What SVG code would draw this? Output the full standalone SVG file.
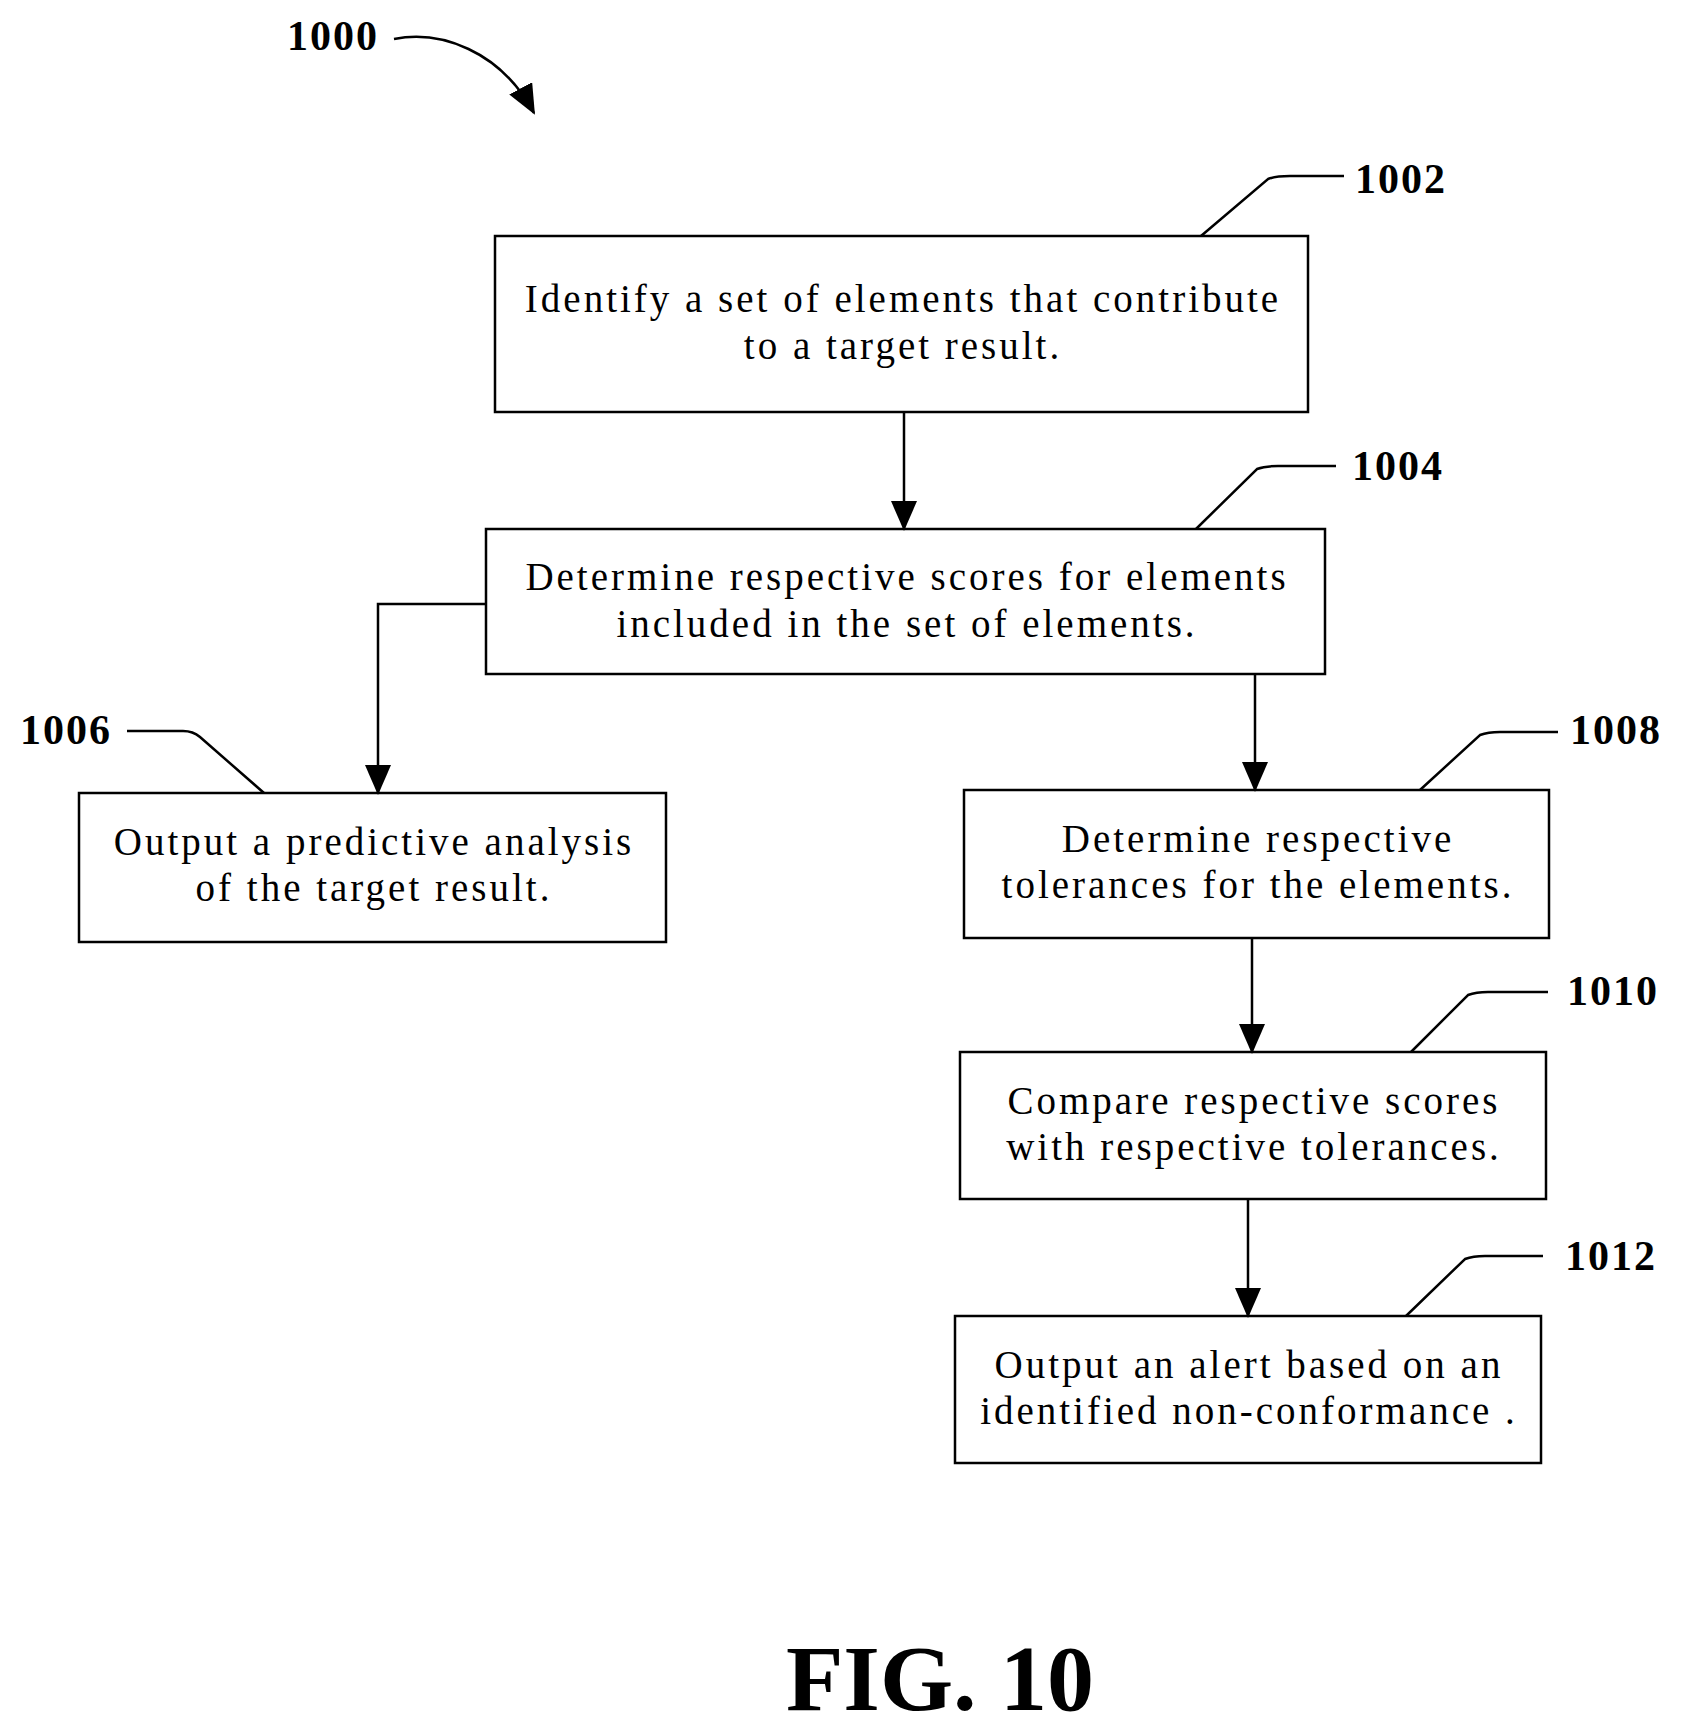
<svg xmlns="http://www.w3.org/2000/svg" width="1686" height="1733" viewBox="0 0 1686 1733">
<style>
.box{fill:#fff;stroke:#000;stroke-width:2.5}
.t{font-family:"Liberation Serif",serif;font-size:39px;letter-spacing:3px;text-anchor:middle;fill:#000}
.lb{font-family:"Liberation Serif",serif;font-size:42px;letter-spacing:2px;font-weight:bold;fill:#000}
.ln{fill:none;stroke:#000;stroke-width:2.5}
</style>
<defs>
<marker id="ah2" markerWidth="30" markerHeight="26" refX="28" refY="13" orient="auto" markerUnits="userSpaceOnUse" viewBox="0 0 30 26">
<path d="M0,0 L30,13 L0,26 Z" fill="#000"/>
</marker>
</defs>
<rect width="1686" height="1733" fill="#fff"/>
<g id="n1000"><text class="lb" x="287" y="50">1000</text></g>
<g id="n1002"><rect class="box" x="495" y="236" width="813" height="176"/>
<text class="t" x="903" y="312">Identify a set of elements that contribute</text>
<text class="t" x="903" y="359">to a target result.</text>
<text class="lb" x="1355" y="193">1002</text></g>
<g id="n1004"><rect class="box" x="486" y="529" width="839" height="145"/>
<text class="t" x="907" y="590">Determine respective scores for elements</text>
<text class="t" x="907" y="637">included in the set of elements.</text>
<text class="lb" x="1352" y="480">1004</text></g>
<g id="n1006"><rect class="box" x="79" y="793" width="587" height="149"/>
<text class="t" x="374" y="855">Output a predictive analysis</text>
<text class="t" x="374" y="901">of the target result.</text>
<text class="lb" x="20" y="744">1006</text></g>
<g id="n1008"><rect class="box" x="964" y="790" width="585" height="148"/>
<text class="t" x="1258" y="852">Determine respective</text>
<text class="t" x="1258" y="898">tolerances for the elements.</text>
<text class="lb" x="1570" y="744">1008</text></g>
<g id="n1010"><rect class="box" x="960" y="1052" width="586" height="147"/>
<text class="t" x="1254" y="1114">Compare respective scores</text>
<text class="t" x="1254" y="1160">with respective tolerances.</text>
<text class="lb" x="1567" y="1005">1010</text></g>
<g id="n1012"><rect class="box" x="955" y="1316" width="586" height="147"/>
<text class="t" x="1249" y="1378">Output an alert based on an</text>
<text class="t" x="1249" y="1424">identified non-conformance .</text>
<text class="lb" x="1565" y="1270">1012</text></g>
<g id="fig"><text x="940" y="1710" style="font-family:'Liberation Serif',serif;font-size:94px;font-weight:bold;text-anchor:middle">FIG. 10</text></g>
<g id="connectors">
<path class="ln" d="M904,412 V529" marker-end="url(#ah2)"/>
<path class="ln" d="M486,604 H378 V793" marker-end="url(#ah2)"/>
<path class="ln" d="M1255,674 V790" marker-end="url(#ah2)"/>
<path class="ln" d="M1252,938 V1052" marker-end="url(#ah2)"/>
<path class="ln" d="M1248,1199 V1316" marker-end="url(#ah2)"/>
<path class="ln" d="M394,39 C440,30 500,50 534,113" marker-end="url(#ah2)"/>
<path class="ln" d="M1201,236 L1268,179 Q1276,176 1290,176 H1344"/>
<path class="ln" d="M1196,529 L1257,469 Q1265,466 1278,466 H1336"/>
<path class="ln" d="M127,731 H183 Q193,731 200,737 L264,793"/>
<path class="ln" d="M1420,790 L1480,735 Q1488,732 1500,732 H1558"/>
<path class="ln" d="M1411,1052 L1468,995 Q1476,992 1488,992 H1548"/>
<path class="ln" d="M1406,1316 L1465,1259 Q1473,1256 1485,1256 H1543"/>
</g>
</svg>
